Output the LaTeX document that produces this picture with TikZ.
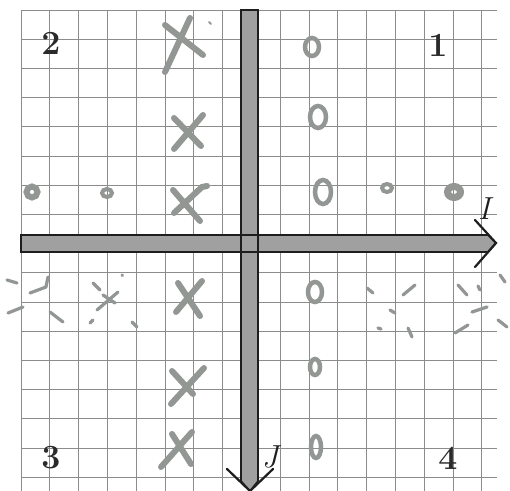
\documentclass[tikz,border=0pt]{standalone}
\usepackage{tikz}
\usetikzlibrary{arrows.meta,positioning,calc}
\definecolor{PaperGrid}{HTML}{8C8C8C}
\definecolor{AxisFill}{HTML}{A0A0A0}
\definecolor{AxisEdge}{HTML}{1E1E1E}
\definecolor{PencilGray}{HTML}{929794}
\definecolor{LabelInk}{HTML}{2A2A2A}

\begin{document}
\begin{tikzpicture}[x=1bp,y=-1bp]
    \tikzset{gridline/.style={PaperGrid,line width=0.8bp},
      quadlabel/.style={font=\fontsize{34}{34}\selectfont\bfseries,text=LabelInk,inner sep=0pt},
      axislabel/.style={font=\fontsize{32}{32}\selectfont\itshape,text=AxisEdge,inner sep=0pt},
      xmark/.style={PencilGray,line width=6bp,line cap=round},
      omark/.style={PencilGray,line width=4.5bp},
      scratch/.style={PencilGray,line width=3.2bp,line cap=round,line join=round},
      axisbar/.style={fill=AxisFill,draw=none},
      axisedge/.style={AxisEdge,line width=1.6bp},
      chevron/.style={AxisEdge,line width=2.2bp,line cap=round}}
    \useasboundingbox[fill=white] (0,0) rectangle (510,491);
    % squared paper
    \foreach \i in {0,...,16}{
      \draw[gridline] (21+28.8*\i,10) -- (21+28.8*\i,491);
      \draw[gridline] (21,10+29.2*\i) -- (497,10+29.2*\i);
    }
    % axes
    \coordinate (htip) at (496,243);
    \coordinate (vtip) at (250,491);
    \fill[axisbar] (21,235) -- (488,235) -- (htip) -- (488,252) -- (21,252) -- cycle;
    \fill[axisbar] (241,10) -- (241,481) -- (vtip) -- (258,481) -- (258,10) -- cycle;
    \draw[axisedge] (21,235) -- (488,235) -- (htip) -- (488,252) -- (21,252) -- cycle;
    \draw[axisedge] (241,10) -- (241,481) -- (vtip) -- (258,481) -- (258,10) -- cycle;
    \draw[chevron] ($(htip)+(-21,-23)$) -- (htip) -- ($(htip)+(-21,24)$);
    \draw[chevron] ($(vtip)+(-23,-22)$) -- (vtip) -- ($(vtip)+(23,-22)$);
    \node[axislabel] (ilabel) at (484,209) {I};
    \node[axislabel] (jlabel) at (270,457) {J};
    % quadrant numbers
    \node[quadlabel] (q1) at (438,45) {1};
    \node[quadlabel] (q2) at (51,43) {2};
    \node[quadlabel] (q3) at (51,458) {3};
    \node[quadlabel] (q4) at (448,458) {4};
    % crosses
    \draw[xmark] (165,25) -- (203,55) (190,18) -- (165,72);
    \draw[xmark,line width=2bp] (209,22) -- (211,24);
    \draw[xmark] (174,118) -- (201,146) (203,115) -- (174,149);
    \draw[xmark] (173,190) -- (200,221) (207,186) -- (202,187) -- (174,213);
    \draw[xmark] (178,283) -- (200,316) (202,281) -- (176,312);
    \draw[xmark] (172,371) -- (193,394) (204,368) -- (171,404);
    \draw[xmark] (172,434) -- (191,464) (192,432) -- (161,467);
    % noughts
    \draw[omark] (312,47) ellipse [x radius=7bp,y radius=9bp];
    \draw[omark] (318,117) ellipse [x radius=8bp,y radius=11bp];
    \draw[omark] (323,192) ellipse [x radius=8bp,y radius=12bp];
    \draw[omark] (315,292) ellipse [x radius=7bp,y radius=10bp];
    \draw[omark] (315,367) ellipse [x radius=5bp,y radius=8bp];
    \draw[omark] (316,447) ellipse [x radius=5bp,y radius=11bp];
    % small rings
    \draw[omark,line width=6bp] (32,192) circle [radius=5.5bp];
    \draw[omark,line width=4bp] (107,193) ellipse [x radius=5bp,y radius=4bp];
    \draw[omark,line width=4bp] (387,188) ellipse [x radius=5bp,y radius=4bp];
    \draw[omark,line width=7bp] (454,192) ellipse [x radius=6.5bp,y radius=5.5bp];
    % scattered strokes
    \draw[scratch] (7,280) -- (17,283) (48,277) -- (46,287) -- (30,293)
      (8,313) -- (23,307) (50,312) -- (63,322);
    \draw[scratch] (93,283) -- (100,290) (97,310) -- (118,292) (103,295) -- (115,303)
      (90,323) -- (93,320) (132,322) -- (137,327) (122,275) -- (122.5,275.5);
    \draw[scratch] (367,288) -- (373,293) (403,295) -- (415,285) (390,310) -- (395,313)
      (378,328) -- (381,329) (408,328) -- (412,337);
    \draw[scratch] (458,285) -- (467,295) (472,312) -- (487,307) (500,275) -- (505,282)
      (498,320) -- (507,327) (455,333) -- (468,325) (478,286) -- (480,290);
  \end{tikzpicture}
\end{document}
